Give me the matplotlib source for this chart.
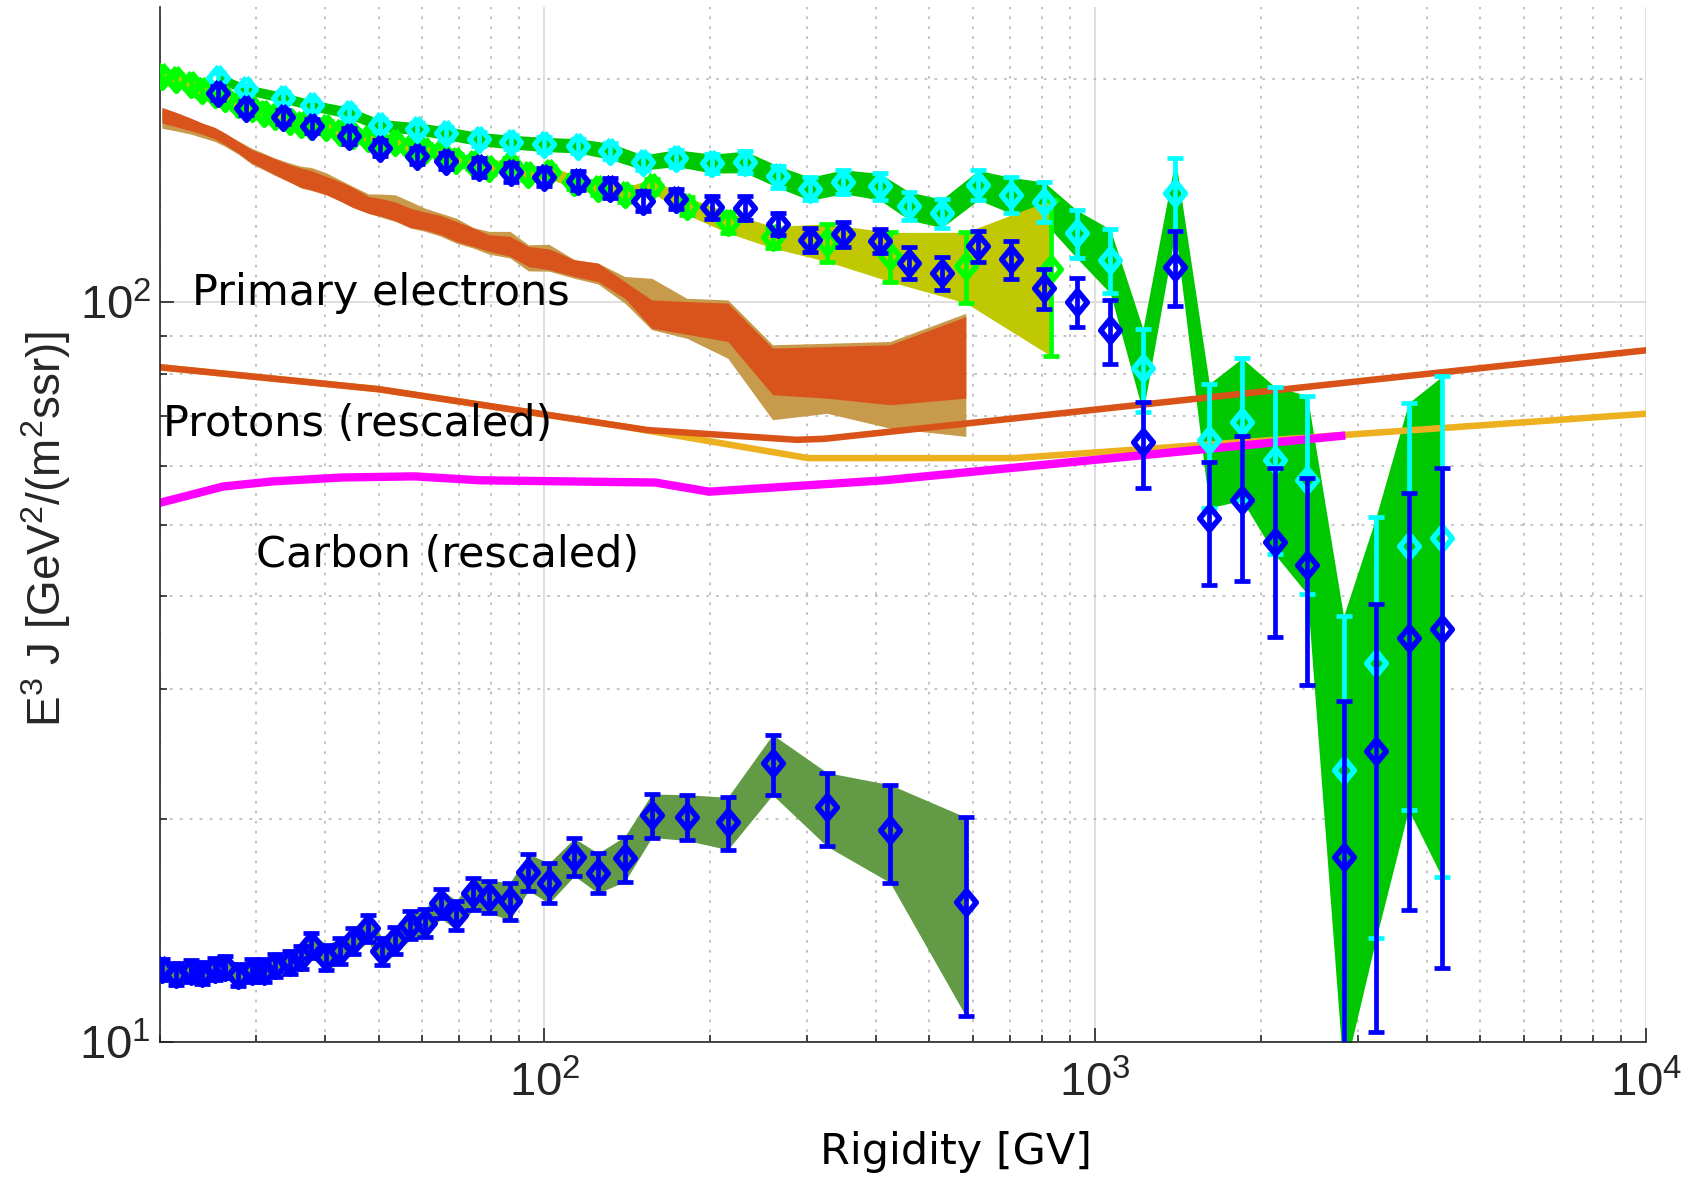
import matplotlib
matplotlib.use('Agg')
import matplotlib.pyplot as plt
from matplotlib.ticker import NullFormatter


# fine rigidity bins (positrons, low-energy electrons, primary-electron estimates)
rig_fine = [20.2, 21.4, 22.8, 23.9, 25.2, 26.3, 27.8, 29.4, 30.9, 32.4,
            34.5, 36.2, 37.7, 40.2, 42.5, 44.9, 47.9, 50.7, 53.6, 57.1,
            60.7, 64.9, 69.2, 74.3, 79.3, 86.6, 93.5, 101.9, 113.3, 125.1,
            139.9, 156.6, 181.3, 215.2, 259.5, 325.8, 424.1, 582.1]

# electrons, fine binning (one extra wide bin at the end)
rig_elec = rig_fine + [832.0]
elec_flux = [202.0, 200.1, 197.0, 193.1, 191.0, 188.7, 185.2, 182.9, 180.1, 178.4,
             175.6, 174.0, 172.9, 172.5, 169.7, 168.1, 166.4, 163.5, 164.3, 161.5,
             160.5, 159.5, 155.6, 154.1, 151.7, 153.6, 148.9, 149.8, 145.2, 142.6,
             139.7, 143.5, 134.8, 128.0, 122.3, 120.4, 115.3, 111.9, 110.9]
elec_err = [3.2, 3.2, 3.1, 3.1, 3.0, 3.0, 3.0, 2.9, 2.9, 2.9,
            2.8, 2.8, 2.8, 2.8, 2.7, 2.7, 2.7, 2.7, 2.7, 2.7,
            2.7, 2.8, 2.8, 2.8, 2.8, 2.9, 2.9, 3.0, 3.0, 3.0,
            3.1, 3.0, 3.7, 4.1, 4.1, 7.05, 8.8, 12.25, 26.45]

# positrons
pos_flux = [12.54, 12.36, 12.49, 12.41, 12.54, 12.64, 12.32, 12.49, 12.49, 12.70,
            12.83, 13.01, 13.52, 13.03, 13.28, 13.70, 14.24, 13.28, 13.73, 14.39,
            14.49, 15.39, 14.84, 15.88, 15.72, 15.52, 16.99, 16.42, 17.80, 16.94,
            17.71, 20.26, 20.15, 19.80, 23.79, 20.75, 19.34, 15.48]
pos_err = [0.42, 0.42, 0.42, 0.42, 0.43, 0.43, 0.43, 0.44, 0.44, 0.45,
           0.46, 0.48, 0.53, 0.51, 0.52, 0.55, 0.59, 0.56, 0.58, 0.62,
           0.64, 0.69, 0.68, 0.78, 0.80, 0.90, 0.97, 1.02, 1.04, 1.05,
           1.24, 1.37, 1.43, 1.61, 2.22, 2.37, 2.92, 4.64]

# primary electrons, two estimates (bands only)
prim_hi = [183.1, 180.4, 177.1, 174.4, 172.0, 169.0, 164.7, 160.5, 158.3, 156.1,
           153.2, 151.6, 150.4, 147.7, 145.4, 142.7, 138.8, 137.8, 136.4, 133.8,
           132.2, 130.8, 128.4, 125.8, 123.2, 122.6, 118.8, 117.9, 114.0, 112.8,
           106.5, 100.6, 100.1, 99.6, 86.6, 87.0, 87.5, 95.5]
prim_lo = [174.4, 172.5, 170.2, 168.5, 166.0, 163.0, 158.8, 154.0, 151.3, 148.5,
           145.1, 142.7, 141.7, 139.5, 136.9, 134.1, 131.7, 130.4, 128.7, 126.0,
           125.1, 123.2, 120.6, 118.8, 117.0, 115.2, 111.6, 110.5, 108.2, 106.5,
           101.1, 92.1, 90.4, 88.4, 74.9, 74.1, 72.6, 74.1]
prim2_hi = [181.7, 179.9, 176.7, 174.4, 172.0, 169.0, 165.0, 161.3, 158.8, 156.4,
            154.0, 152.4, 151.9, 149.3, 146.2, 143.2, 139.9, 139.8, 139.5, 136.6,
            133.8, 131.7, 129.7, 126.0, 124.5, 124.5, 119.4, 119.6, 114.0, 112.8,
            108.2, 107.6, 101.1, 100.6, 87.5, 87.9, 88.4, 96.5]
prim2_lo = [171.6, 170.2, 168.5, 166.7, 164.7, 162.2, 158.3, 153.5, 150.8, 148.2,
            145.1, 142.4, 141.4, 139.5, 136.9, 134.1, 131.7, 130.0, 128.4, 125.8,
            124.5, 122.6, 120.0, 118.2, 116.0, 114.6, 110.1, 110.0, 107.6, 105.7,
            99.6, 91.7, 89.3, 83.9, 69.3, 70.7, 67.5, 65.8]

# all-electron spectra on the wide binning up to the TeV range
rig_wide = [25.5, 28.7, 33.5, 37.8, 44.1, 50.3, 58.6, 66.2, 75.9, 87.1,
            100, 115, 131.5, 151, 173.5, 201.6, 231.5, 265, 303.6, 348.8,
            406, 460, 527, 613.6, 703, 808, 925.6, 1065, 1221, 1398,
            1611, 1848, 2118, 2426, 2824, 3235, 3706, 4262]
all_flux = [200.9, 193.6, 188.8, 184.3, 180.1, 173.2, 171.4, 169.0, 166.0, 164.4,
            163.2, 162.5, 159.8, 154.3, 156.4, 153.8, 154.6, 147.7, 142.2, 145.4,
            143.2, 134.8, 131.8, 143.9, 139.5, 136.6, 123.8, 114.0, 81.4, 140.5,
            65.1, 68.9, 61.2, 57.5, 23.3, 32.5, 46.8, 48.0]
all_err = [3.1, 3.0, 3.0, 3.0, 3.2, 3.2, 3.2, 3.4, 3.4, 3.5,
           3.6, 3.6, 4.0, 3.6, 4.1, 4.5, 5.2, 5.0, 5.1, 5.4,
           5.9, 5.9, 5.8, 6.6, 7.8, 8.5, 9.2, 11.3, 10.5, 15.9,
           12.4, 15.0, 15.6, 17.2, 14.3, 18.7, 26.2, 31.3]
elec2_flux = [191.4, 182.7, 177.7, 172.9, 167.6, 161.3, 157.5, 155.1, 151.9, 149.6,
              147.5, 145.7, 142.4, 136.9, 137.8, 134.2, 133.9, 127.4, 121.3, 123.5,
              120.9, 113.0, 109.3, 118.8, 114.2, 104.4, 100.1, 91.5, 64.7, 111.6,
              51.1, 53.9, 47.4, 44.1, 17.8, 24.7, 35.1, 36.1]
elec2_err = [4.2, 4.0, 3.9, 3.8, 4.2, 4.0, 3.9, 3.9, 4.3, 4.2,
             4.1, 4.3, 4.4, 4.3, 4.3, 5.0, 4.9, 4.3, 4.4, 4.8,
             4.5, 5.7, 5.5, 5.7, 6.7, 6.5, 7.5, 9.0, 8.6, 12.9,
             9.7, 11.9, 12.2, 13.7, 11.1, 14.4, 20.0, 23.5]

# rescaled proton and carbon spectra
proton_rig = [20, 50, 154, 287, 322, 10000]
proton_flux = [81.6, 76.2, 67.1, 65.1, 65.3, 86.0]
proton2_rig = [20, 50, 140, 301, 714, 10000]
proton2_flux = [81.6, 76.2, 67.8, 61.5, 61.5, 70.6]
carbon_rig = [20, 26.1, 32.1, 42.9, 58.1, 76.2, 159, 199, 415, 2796]
carbon_flux = [53.5, 56.3, 57.2, 57.9, 58.1, 57.4, 57.0, 55.4, 57.4, 65.9]

# slightly tall diamond, like the default errorbar marker
DIAMOND = [(0, 1), (0.83, 0), (0, -1), (-0.83, 0), (0, 1)]


def band(ax, x, lo, hi, color, z):
    ax.fill_between(x, lo, hi, color=color, lw=0, zorder=z)


def band_from_err(ax, x, y, err, color, z):
    lo = [v - e for v, e in zip(y, err)]
    hi = [v + e for v, e in zip(y, err)]
    band(ax, x, lo, hi, color, z)


def points(ax, x, y, err, color, z):
    ax.errorbar(x, y, yerr=err, fmt='none', ecolor=color, elinewidth=3.4,
                capsize=5.5, capthick=3.4, zorder=z)
    ax.plot(x, y, ls='none', marker=DIAMOND, ms=17, mfc='none', mec=color,
            mew=4, zorder=z + 0.01)


plt.rcParams['font.family'] = ['DejaVu Sans']

fig = plt.figure(figsize=(16.96, 11.85), dpi=100)
ax = fig.add_axes([0.09405, 0.12068, 0.87647, 0.87317])
ax.set_xscale('log')
ax.set_yscale('log')

band(ax, rig_fine, prim2_lo, prim2_hi, '#c89a4b', 1.0)
band(ax, rig_fine, prim_lo, prim_hi, '#d9541d', 1.1)
band_from_err(ax, rig_fine, pos_flux, pos_err, '#629a45', 1.2)
band_from_err(ax, rig_wide, all_flux, all_err, '#00c800', 1.3)
band_from_err(ax, rig_elec, elec_flux, elec_err, '#bfc800', 1.4)

ax.plot(proton2_rig, proton2_flux, color='#edb120', lw=4.7, zorder=2.0)
ax.plot(proton_rig, proton_flux, color='#d95319', lw=4.7, zorder=2.1)
ax.plot(carbon_rig, carbon_flux, color='#ff00ff', lw=6, zorder=2.2)

points(ax, rig_elec, elec_flux, elec_err, '#00ff00', 3.0)
points(ax, rig_wide, all_flux, all_err, '#00ffff', 3.1)
points(ax, rig_wide, elec2_flux, elec2_err, '#0000ff', 3.2)
points(ax, rig_fine, pos_flux, pos_err, '#0000ff', 3.3)

ax.text(22.9, 98.9, 'Primary electrons', fontsize=31, va='baseline', zorder=4)
ax.text(20.3, 65.8, 'Protons (rescaled)', fontsize=31, va='baseline', zorder=4)
ax.text(29.9, 43.8, 'Carbon (rescaled)', fontsize=31, va='baseline', zorder=4)

ax.set_xlim(20, 1e4)
ax.set_ylim(10, 250)

ax.xaxis.set_minor_formatter(NullFormatter())
ax.yaxis.set_minor_formatter(NullFormatter())
ax.tick_params(which='both', direction='in', color='#262626', width=1.2,
               labelsize=34, labelcolor='#262626', labelfontfamily='Liberation Sans')
ax.tick_params(which='major', length=10)
ax.tick_params(which='minor', length=5)
ax.tick_params(axis='x', pad=14)
ax.tick_params(axis='y', pad=6)

ax.set_axisbelow(True)
ax.grid(True, which='major', color='#dcdcdc', lw=1.3, ls='-')
ax.grid(True, which='minor', color='#bdbdbd', lw=1.3, ls=(0, (1.5, 4)))

for side in ['top', 'right']:
    ax.spines[side].set_visible(False)
for side in ['left', 'bottom']:
    ax.spines[side].set_color('#262626')
    ax.spines[side].set_linewidth(1.2)

ax.set_xlabel('Rigidity [GV]', fontsize=31)
ax.xaxis.set_label_coords(0.536, -0.086)
ax.set_ylabel(r'E$^{\mathdefault{3}}$ J [GeV$^{\mathdefault{2}}$/(m$^{\mathdefault{2}}$ssr)]',
              fontsize=33, family='Liberation Sans', color='#262626')
ax.yaxis.set_label_coords(-0.058, 0.496)

fig.savefig('out.png', dpi=100)
